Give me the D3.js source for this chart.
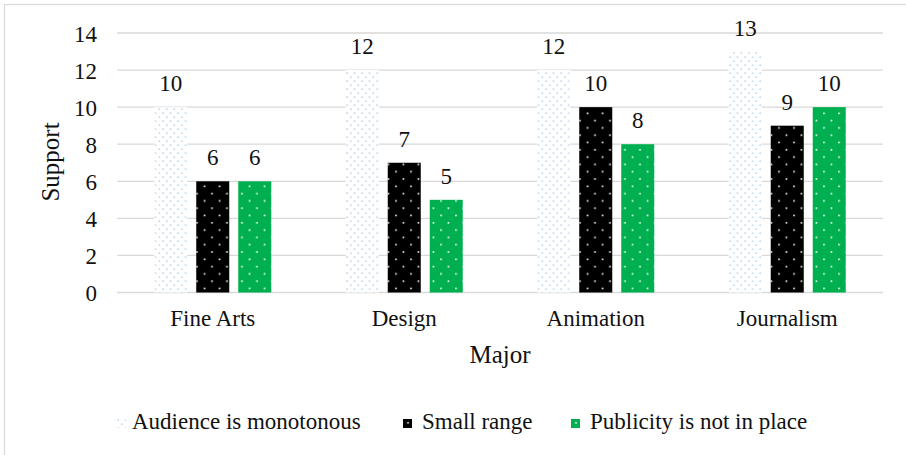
<!DOCTYPE html>
<html>
<head>
<meta charset="utf-8">
<script src="https://cdn.jsdelivr.net/npm/d3@7"></script>
</head>
<body style="margin:0;padding:0;background:#fff">
<svg id="chart" width="906" height="455"></svg>
<script>
const categories = ["Fine Arts", "Design", "Animation", "Journalism"];
const seriesNames = ["Audience is monotonous", "Small range", "Publicity is not in place"];
const audienceValues = [10, 12, 12, 13];
const smallRangeValues = [6, 7, 10, 9];
const publicityValues = [6, 5, 8, 10];
const yTicks = [0, 2, 4, 6, 8, 10, 12, 14];
const xTitle = "Major";
const yTitle = "Support";

const seriesValues = [audienceValues, smallRangeValues, publicityValues];
const patternIds = ["pBlue", "pBlack", "pGreen"];
const FONT = "'Liberation Serif'";
const TXT = "#111";

const svg = d3.select("#chart");
const plot = { left: 117, right: 883, top: 33, bottom: 292.5 };

function styleText(sel, size) {
  return sel.style("font-family", FONT).style("font-size", size + "px").attr("fill", TXT);
}

// border
svg.append("rect").attr("x", 4.5).attr("y", 4.5).attr("width", 912).attr("height", 470)
  .attr("fill", "#fff").attr("stroke", "#d9d9d9").attr("stroke-width", 1.2);

// patterns
const defs = svg.append("defs");
const pb = defs.append("pattern").attr("id", "pBlue").attr("patternUnits", "userSpaceOnUse")
  .attr("width", 7.5).attr("height", 8);
pb.append("rect").attr("width", 7.5).attr("height", 8).attr("fill", "#fff");
pb.append("rect").attr("x", 0.5).attr("y", 0.5).attr("width", 1.3).attr("height", 1.3).attr("fill", "#9dc3e6");
pb.append("rect").attr("x", 4.25).attr("y", 4.5).attr("width", 1.3).attr("height", 1.3).attr("fill", "#9dc3e6");

function dotPattern(id, bg) {
  const p = defs.append("pattern").attr("id", id).attr("patternUnits", "userSpaceOnUse")
    .attr("width", 15).attr("height", 14.6).attr("x", 0.7).attr("y", 0);
  p.append("rect").attr("width", 15).attr("height", 14.6).attr("fill", bg);
  p.append("rect").attr("x", 3.5).attr("y", 3).attr("width", 1.6).attr("height", 1.6).attr("fill", "#fff");
  p.append("rect").attr("x", 11).attr("y", 10.3).attr("width", 1.6).attr("height", 1.6).attr("fill", "#fff");
}
dotPattern("pBlack", "#000");
dotPattern("pGreen", "#00b050");

// scales
const y = d3.scaleLinear().domain([0, 14]).range([plot.bottom, plot.top]);
const x0 = d3.scaleBand().domain(categories).range([plot.left, plot.right]).padding(0);
const groupW = 117;
const x1 = d3.scaleBand().domain(seriesNames)
  .range([x0.bandwidth() / 2 - groupW / 2, x0.bandwidth() / 2 + groupW / 2])
  .paddingInner(0.214).paddingOuter(0);

// gridlines
svg.append("g").selectAll("line").data(yTicks).join("line")
  .attr("x1", plot.left).attr("x2", plot.right)
  .attr("y1", d => y(d)).attr("y2", d => y(d))
  .attr("stroke", "#d9d9d9").attr("stroke-width", 1.3);

// y axis labels
const yAxis = d3.axisLeft(y).tickValues(yTicks).tickSize(0).tickPadding(0);
const gy = svg.append("g").attr("transform", `translate(${plot.left - 20},0)`).call(yAxis)
  .attr("font-family", null).attr("font-size", null);
gy.select(".domain").remove();
styleText(gy.selectAll("text"), 23).attr("dy", "0.36em");

// bars
const groups = svg.append("g").selectAll("g").data(categories).join("g")
  .attr("transform", d => `translate(${x0(d)},0)`);
groups.each(function(cat, ci) {
  const g = d3.select(this);
  seriesNames.forEach((s, si) => {
    const v = seriesValues[si][ci];
    g.append("rect")
      .attr("x", x1(s)).attr("width", x1.bandwidth())
      .attr("y", y(v)).attr("height", y(0) - y(v))
      .attr("fill", `url(#${patternIds[si]})`);
    styleText(g.append("text"), 23)
      .attr("x", x1(s) + x1.bandwidth() / 2).attr("y", y(v) - 16)
      .attr("text-anchor", "middle")
      .text(v);
  });
});

// x axis labels
const xAxis = d3.axisBottom(x0).tickSize(0).tickPadding(0);
const gx = svg.append("g").attr("transform", `translate(0,${plot.bottom})`).call(xAxis)
  .attr("font-family", null).attr("font-size", null);
gx.select(".domain").remove();
styleText(gx.selectAll("text"), 23).attr("y", 326 - plot.bottom).attr("dy", 0);

// axis titles
styleText(svg.append("text"), 25).attr("x", (plot.left + plot.right) / 2).attr("y", 363)
  .attr("text-anchor", "middle").text(xTitle);
styleText(svg.append("text"), 25).attr("transform", `translate(59,162) rotate(-90)`)
  .attr("text-anchor", "middle").text(yTitle);

// legend
const legendX = [117, 403, 571];
const leg = svg.append("g").selectAll("g").data(seriesNames).join("g")
  .attr("transform", (d, i) => `translate(${legendX[i]},419)`);
leg.append("rect").attr("width", 9).attr("height", 9)
  .attr("fill", (d, i) => `url(#${patternIds[i]})`);
styleText(leg.append("text"), 23).attr("x", (d, i) => i === 0 ? 15 : 19).attr("y", 9.5)
  .text(d => d);
</script>
</body>
</html>
